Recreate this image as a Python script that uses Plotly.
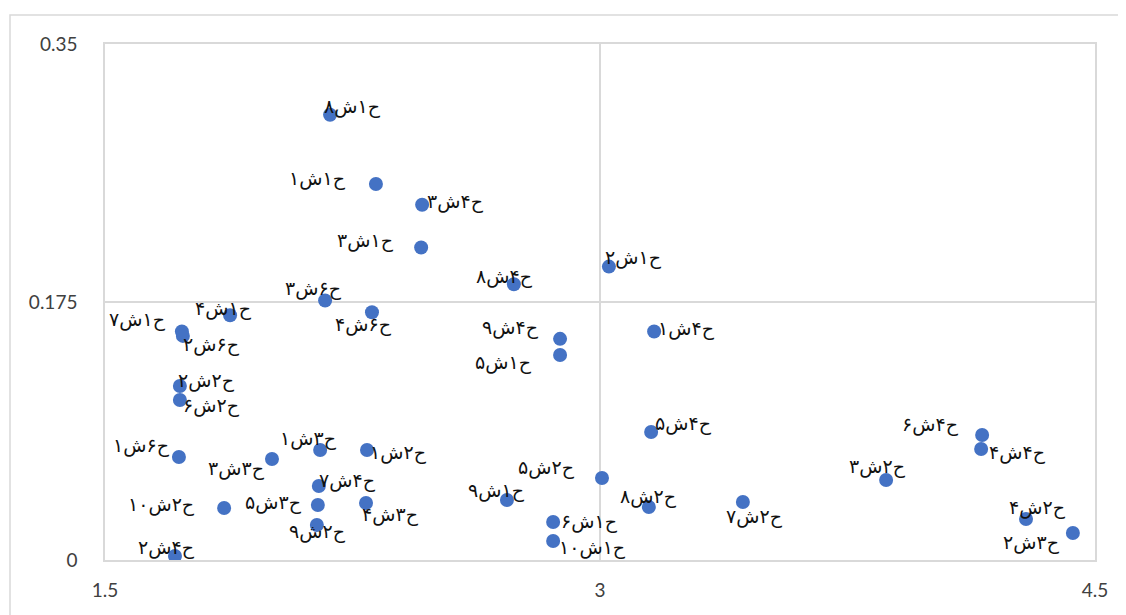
import plotly.graph_objects as go

labels = ["ح۱ش۸", "ح۱ش۱", "ح۴ش۳", "ح۱ش۳", "ح۶ش۳", "ح۶ش۴", "ح۴ش۸", "ح۱ش۲", "ح۴ش۹", "ح۱ش۵",
          "ح۴ش۱", "ح۱ش۴", "ح۱ش۷", "ح۶ش۲", "ح۲ش۲", "ح۲ش۶", "ح۶ش۱", "ح۳ش۳", "ح۳ش۱", "ح۲ش۱",
          "ح۴ش۷", "ح۳ش۵", "ح۳ش۴", "ح۲ش۹", "ح۲ش۱۰", "ح۴ش۲", "ح۱ش۹", "ح۲ش۵", "ح۱ش۶", "ح۱ش۱۰",
          "ح۴ش۵", "ح۲ش۸", "ح۲ش۷", "ح۲ش۳", "ح۴ش۶", "ح۴ش۴", "ح۲ش۴", "ح۳ش۲"]
x_vals = [2.182, 2.321, 2.461, 2.458, 2.167, 2.309, 2.739, 3.027, 2.879, 2.879,
          3.164, 1.879, 1.733, 1.736, 1.727, 1.727, 1.724, 2.006, 2.152, 2.294,
          2.148, 2.145, 2.291, 2.142, 1.861, 1.712, 2.718, 3.006, 2.858, 2.858,
          3.155, 3.148, 3.433, 3.867, 4.158, 4.155, 4.291, 4.433]
y_vals = [0.302, 0.255, 0.241, 0.212, 0.176, 0.168, 0.187, 0.199, 0.150, 0.139,
          0.155, 0.166, 0.155, 0.152, 0.118, 0.1085, 0.0699, 0.0685, 0.0746, 0.0746,
          0.0502, 0.0373, 0.0387, 0.0237, 0.0353, 0.0027, 0.0407, 0.0556, 0.0258, 0.0129,
          0.0868, 0.0360, 0.0393, 0.0543, 0.0848, 0.0753, 0.0278, 0.0183]

# label offsets in pixels (dx right, dy up)
label_dx = [22, -58, 33, -56, -12, -8, -9, 25, -50, -57,
            32, -7, -44, 29, 27, 32, -37, -35, -12, 31,
            29, -44, 24, 1, -63, -8, -10, -55, 36, 39,
            32, 0, 12, -9, -52, 36, 11, -41]
label_dy = [8, 6, 3, 7, 12, -12, 8, 9, 11, -7,
            3, 7, 12, -9, 6, -5, 11, -9, 12, -2,
            5, 3, -12, -6, 3, 9, 10, 11, 0, -7,
            9, 10, -14, 13, 10, -4, 12, -9]

x_ticks = [1.5, 3, 4.5]
x_ticktext = ["1.5", "3", "4.5"]
y_ticks = [0, 0.175, 0.35]
y_ticktext = ["0", "0.175", "0.35"]

# page has an 8px body margin; figure placed at (8, 8)
OFF = 8
W, H = 1126, 615
ML, MT = 105 - OFF, 44 - OFF
MR = W - (1095 - OFF)
MB = H - (560 - OFF)
pw = W - ML - MR
ph = H - MT - MB

fig = go.Figure()
fig.add_trace(go.Scatter(
    x=x_vals, y=y_vals, mode="markers",
    marker=dict(size=14, color="#4472C4", line=dict(width=0)),
    hoverinfo="text", text=labels, showlegend=False,
))

for xv, yv, t, dx, dy in zip(x_vals, y_vals, labels, label_dx, label_dy):
    fig.add_annotation(x=xv, y=yv, text=t, showarrow=False, xshift=dx, yshift=dy,
                       font=dict(family="DejaVu Sans", size=19, color="#111111"))

# outer chart border
fig.add_shape(type="rect", xref="paper", yref="paper",
              x0=(10 - OFF - ML) / pw, x1=1 + (MR + 20) / pw,
              y0=-(MB + 20) / ph, y1=1 + (MT - (15 - OFF)) / ph,
              line=dict(color="#d9d9d9", width=1.5), layer="below")

axis_common = dict(showline=True, linecolor="#d9d9d9", linewidth=1.5, mirror=True,
                   showgrid=True, gridcolor="#d9d9d9", gridwidth=1.5, zeroline=False,
                   ticks="", tickfont=dict(family="Lato, Open Sans", size=19, color="#404040"))

fig.update_xaxes(range=[1.5, 4.5], tickvals=x_ticks, ticktext=x_ticktext,
                 ticklabelstandoff=12, **axis_common)
fig.update_yaxes(range=[0, 0.35], tickvals=y_ticks, ticktext=y_ticktext,
                 ticklabelstandoff=22, **axis_common)

fig.update_layout(width=W, height=H, margin=dict(l=ML, r=MR, t=MT, b=MB, pad=0),
                  plot_bgcolor="white", paper_bgcolor="white")

fig.write_html("out.html")
